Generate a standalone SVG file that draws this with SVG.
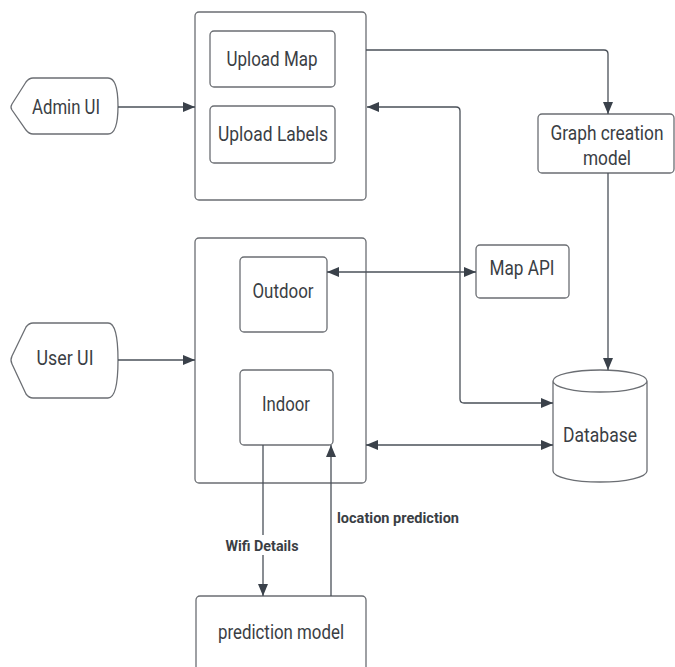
<svg xmlns="http://www.w3.org/2000/svg" width="675" height="667" viewBox="0 0 675 667">
<style>
.box{fill:#fff;stroke:#6b6e73;stroke-width:1.3}
.t{font-family:Roboto,"Liberation Sans",sans-serif;font-size:20px;fill:#3a3e44;text-anchor:middle}
.lb{font-family:Roboto,"Liberation Sans",sans-serif;font-size:15px;font-weight:bold;fill:#3a3e44}
.c{fill:none;stroke:#4a5058;stroke-width:1.3}
</style>
<defs>
<marker id="ah" viewBox="0 0 12 10" refX="12" refY="5" markerWidth="12" markerHeight="10" markerUnits="userSpaceOnUse" orient="auto-start-reverse">
<path d="M0,0 L12,5 L0,10 Z" fill="#3a414a"/>
</marker>
</defs>
<rect width="675" height="667" fill="#fff"/>
<g id="admin-box"><rect class="box" x="195" y="12" width="171" height="188" rx="4"/></g>
<g id="upload-map"><rect class="box" x="210" y="31" width="125" height="56" rx="4"/><text class="t" x="272" y="66" textLength="91" lengthAdjust="spacingAndGlyphs">Upload Map</text></g>
<g id="upload-labels"><rect class="box" x="210" y="106" width="125" height="57" rx="4"/><text class="t" x="273" y="141" textLength="110" lengthAdjust="spacingAndGlyphs">Upload Labels</text></g>
<g id="admin-ui"><path class="box" d="M33,78 L108,78 Q118,78 118,106 Q118,134 108,134 L33,134 Q29,134 26,130 L12,110 Q10,107 12,104 L26,82 Q29,78 33,78 Z"/><text class="t" x="66" y="114" textLength="68" lengthAdjust="spacingAndGlyphs">Admin UI</text></g>
<g id="graph-creation"><rect class="box" x="538" y="114" width="136" height="59" rx="4"/><text class="t" x="607" y="140" textLength="113" lengthAdjust="spacingAndGlyphs">Graph creation</text><text class="t" x="607" y="165" textLength="48" lengthAdjust="spacingAndGlyphs">model</text></g>
<g id="user-box"><rect class="box" x="195" y="238" width="171" height="245" rx="4"/></g>
<g id="outdoor"><rect class="box" x="240" y="257" width="87" height="75" rx="4"/><text class="t" x="283" y="298" textLength="61" lengthAdjust="spacingAndGlyphs">Outdoor</text></g>
<g id="indoor"><rect class="box" x="240" y="370" width="93" height="75" rx="4"/><text class="t" x="286" y="411" textLength="48" lengthAdjust="spacingAndGlyphs">Indoor</text></g>
<g id="user-ui"><path class="box" d="M33,323 L108,323 Q118,323 118,360 Q118,398 108,398 L33,398 Q29,398 26,394 L12,364 Q10,360 12,356 L26,327 Q29,323 33,323 Z"/><text class="t" x="65" y="365" textLength="57" lengthAdjust="spacingAndGlyphs">User UI</text></g>
<g id="map-api"><rect class="box" x="476" y="245" width="93" height="53" rx="4"/><text class="t" x="522" y="275" textLength="65" lengthAdjust="spacingAndGlyphs">Map API</text></g>
<g id="database"><path class="box" d="M553,381 L553,471 A47,11 0 0 0 647,471 L647,381 A47,11 0 0 0 553,381 A47,11 0 0 0 647,381"/><text class="t" x="600" y="442" textLength="74" lengthAdjust="spacingAndGlyphs">Database</text></g>
<g id="prediction-model"><rect class="box" x="196" y="596" width="170" height="90" rx="4"/><text class="t" x="281" y="639" textLength="126" lengthAdjust="spacingAndGlyphs">prediction model</text></g>
<g id="connectors">
<path class="c" d="M118,107 L195,107" marker-end="url(#ah)"/>
<path class="c" d="M118,360 L195,360" marker-end="url(#ah)"/>
<path class="c" d="M366,50 L604,50 Q608,50 608,54 L608,114" marker-end="url(#ah)"/>
<path class="c" d="M608,173 L608,370" marker-end="url(#ah)"/>
<path class="c" d="M367,107 L456,107 Q460,107 460,111 L460,399 Q460,403 464,403 L553,403" marker-start="url(#ah)" marker-end="url(#ah)"/>
<path class="c" d="M327,272 L476,272" marker-start="url(#ah)" marker-end="url(#ah)"/>
<path class="c" d="M366,445 L553,445" marker-start="url(#ah)" marker-end="url(#ah)"/>
<path class="c" d="M263,445 L263,596" marker-end="url(#ah)"/>
<path class="c" d="M331,596 L331,445" marker-end="url(#ah)"/>
<rect x="224" y="535" width="78" height="20" fill="#fff"/>
<text class="lb" x="262" y="551" text-anchor="middle" textLength="73" lengthAdjust="spacingAndGlyphs">Wifi Details</text>
<text class="lb" x="337" y="523" textLength="122" lengthAdjust="spacingAndGlyphs">location prediction</text>
</g>
</svg>
